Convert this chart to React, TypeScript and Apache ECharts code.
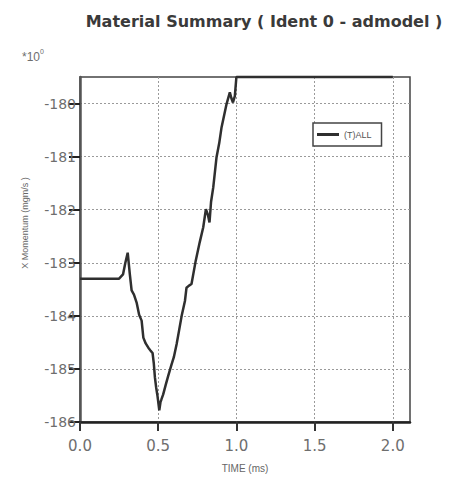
import React, { useEffect, useRef } from "react";
import * as echarts from "echarts";

// Time axis (ms) and X momentum samples for the (T)ALL material curve
const timeMs: number[] = [
  0, 0.25, 0.275, 0.29, 0.305, 0.318, 0.33, 0.345, 0.362, 0.378, 0.394, 0.405,
  0.42, 0.437, 0.452, 0.464, 0.472, 0.479, 0.487, 0.495, 0.507, 0.515, 0.52,
  0.532, 0.548, 0.564, 0.586, 0.6, 0.618, 0.635, 0.65, 0.671, 0.681, 0.697,
  0.713, 0.74, 0.765, 0.788, 0.805, 0.818, 0.828, 0.838, 0.852, 0.873, 0.89,
  0.905, 0.937, 0.958, 0.968, 0.978, 0.99, 1.0, 2.0,
];
const momentum: number[] = [
  -183.3, -183.3, -183.22, -183.0, -182.81, -183.2, -183.52, -183.6, -183.75,
  -183.98, -184.09, -184.41, -184.52, -184.6, -184.66, -184.7, -184.9, -185.16,
  -185.35, -185.5, -185.78, -185.62, -185.58, -185.48, -185.3, -185.13,
  -184.91, -184.78, -184.53, -184.25, -184.0, -183.72, -183.47, -183.43,
  -183.4, -182.96, -182.62, -182.33, -181.99, -182.1, -182.24, -181.85,
  -181.58, -181.01, -180.75, -180.45, -180.01, -179.79, -179.9, -179.98,
  -179.86, -179.5, -179.5,
];

const xTicks: number[] = [0, 0.5, 1.0, 1.5, 2.0];
const yTicks: number[] = [-186, -185, -184, -183, -182, -181, -180];

const seriesName = "(T)ALL";
const titleText = "Material Summary ( Ident 0 - admodel )";
const xName = "TIME (ms)";
const yName = "X Momentum (mgm/s )";

export default function App() {
  const ref = useRef<HTMLDivElement>(null);

  useEffect(() => {
    if (!ref.current) return;
    const chart = echarts.init(ref.current, undefined, { renderer: "svg" });
    const labelColor = "#6e6e6e";
    const gridLine = { show: true, lineStyle: { color: "#9a9a9a", type: [2, 2] as number[], width: 1 } };

    chart.setOption({
      animation: false,
      backgroundColor: "#fff",
      title: {
        text: titleText,
        left: 259,
        top: 8,
        textAlign: "center",
        textStyle: {
          fontFamily: "'DejaVu Sans', sans-serif",
          fontWeight: "bold",
          fontSize: 16,
          color: "#3a3a3a",
        },
      },
      legend: {
        left: 313,
        top: 123,
        orient: "vertical",
        data: [{ name: seriesName, icon: "rect" }],
        itemWidth: 22,
        itemHeight: 3,
        itemGap: 4,
        padding: [7, 10, 7, 4],
        borderColor: "#444",
        borderWidth: 1.5,
        borderRadius: 0,
        backgroundColor: "#fff",
        textStyle: { fontSize: 9, color: "#555", fontFamily: "Arial, 'Liberation Sans', sans-serif" },
      },
      grid: {
        left: 80,
        right: 40,
        top: 77,
        bottom: 56,
        show: true,
        borderColor: "#444",
        borderWidth: 1.5,
        backgroundColor: "transparent",
      },
      xAxis: {
        type: "value",
        min: 0,
        max: 2.11,
        interval: 0.5,
        axisLine: { show: true, lineStyle: { color: "#222", width: 2.5 } },
        axisTick: {
          show: true,
          inside: false,
          length: 9,
          customValues: xTicks,
          lineStyle: { color: "#333", width: 2 },
        },
        axisLabel: {
          customValues: xTicks,
          margin: 16,
          fontSize: 15,
          color: labelColor,
          fontFamily: "'DejaVu Sans', sans-serif",
          formatter: (v: number) => v.toFixed(1),
        },
        splitLine: gridLine,
      },
      yAxis: {
        type: "value",
        min: -186,
        max: -179.5,
        interval: 1,
        axisLine: { show: true, lineStyle: { color: "#555", width: 2.5 } },
        axisTick: {
          show: true,
          inside: false,
          length: 11,
          customValues: yTicks,
          lineStyle: { color: "#222", width: 2 },
        },
        axisLabel: {
          customValues: yTicks,
          margin: 4,
          fontSize: 14,
          color: labelColor,
          fontFamily: "'DejaVu Sans', sans-serif",
          formatter: (v: number) => String(Math.round(v)),
        },
        splitLine: gridLine,
      },
      graphic: [
        {
          type: "text",
          left: 22,
          top: 48,
          style: {
            text: "{b|*10}{s|0}",
            rich: {
              b: { fontSize: 12, fill: labelColor, fontFamily: "Arial, sans-serif", verticalAlign: "bottom" },
              s: { fontSize: 7, fill: labelColor, fontFamily: "Arial, sans-serif", verticalAlign: "top", padding: [0, 0, 8, 0] },
            },
          },
        },
        {
          type: "text",
          x: 25,
          y: 223,
          rotation: Math.PI / 2,
          style: {
            text: yName,
            fontSize: 9,
            fill: "#666",
            fontFamily: "Arial, sans-serif",
            align: "center",
            verticalAlign: "middle",
          },
        },
        {
          type: "text",
          x: 245,
          y: 468,
          style: {
            text: xName,
            fontSize: 10,
            fill: "#666",
            fontFamily: "Arial, sans-serif",
            align: "center",
            verticalAlign: "middle",
          },
        },
      ],
      series: [
        {
          name: seriesName,
          type: "line",
          data: timeMs.map((t, i) => [t, momentum[i]]),
          showSymbol: false,
          clip: false,
          lineStyle: { color: "#2f2f2f", width: 2.5 },
          itemStyle: { color: "#2f2f2f" },
        },
      ],
    });

    return () => chart.dispose();
  }, []);

  return <div ref={ref} style={{ width: 450, height: 478, position: "absolute", left: 0, top: 0 }} />;
}
